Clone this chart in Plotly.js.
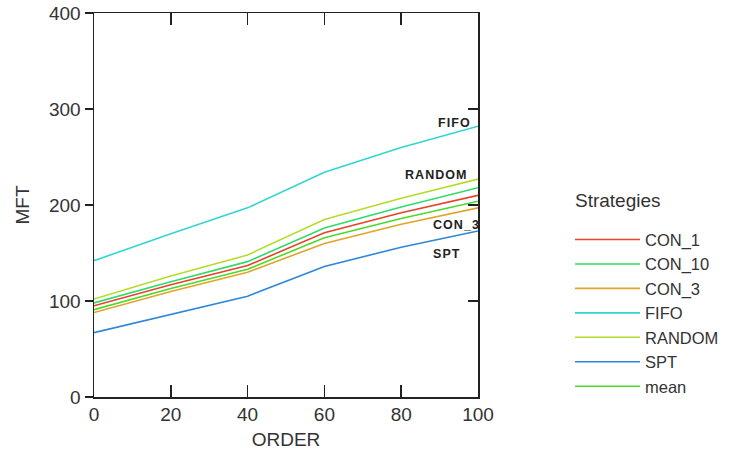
<!DOCTYPE html>
<html><head><meta charset="utf-8">
<script src="https://cdn.plot.ly/plotly-3.0.1.min.js"></script>
<style>html,body{margin:0;padding:0;background:#fff;}#chart{width:741px;height:457px;}</style>
</head><body><div id="chart"></div>
<script>
const order = [0, 20, 40, 60, 80, 100];
const seriesNames = ["CON_1", "CON_10", "CON_3", "FIFO", "RANDOM", "SPT", "mean"];
const con1   = [95, 117, 137, 171, 192, 210];
const con10  = [98, 120, 141, 176, 198, 218];
const con3   = [88, 110, 130, 160, 180, 197];
const fifo   = [142, 170, 197, 234, 260, 282];
const random = [102, 126, 148, 185, 207, 227];
const spt    = [67, 86, 105, 136, 156, 173];
const mean   = [91, 113, 133, 166, 186, 204];
const labelled = ["FIFO", "RANDOM", "CON_3", "SPT"];
const xTicks = [0, 20, 40, 60, 80, 100];
const yTicks = [0, 100, 200, 300, 400];
const legendTitle = "Strategies";

const values = [con1, con10, con3, fifo, random, spt, mean];
const colors = ["#e8412c", "#2fdc6a", "#e0a42a", "#33d6cf", "#b3dc2c", "#2f86d8", "#4cd92c"];

const traces = seriesNames.map((n, i) => ({
  x: order, y: values[i], name: n, type: "scatter", mode: "lines",
  line: {color: colors[i], width: 1.6}
}));
// invisible trace to force the right-side mirror axis
traces.push({x: [order[0]], y: [yTicks[0]], yaxis: "y2", mode: "markers", marker: {opacity: 0}, showlegend: false, hoverinfo: "skip"});

const labelShift = {FIFO: [-6, 3], RANDOM: [-10, 4], CON_3: [3, -17], SPT: [-16, -23]};
const annotations = labelled.map(n => {
  const i = seriesNames.indexOf(n);
  const v = values[i];
  return {
    x: order[order.length - 1], y: v[v.length - 1], xref: "x", yref: "y",
    text: "<b>" + n.split("").join("\u200A") + "</b>", showarrow: false,
    xanchor: "right", yanchor: "middle",
    xshift: labelShift[n][0], yshift: labelShift[n][1],
    font: {family: "Liberation Sans, Arial, sans-serif", size: 12.5, color: "#222"}
  };
});
annotations.push({
  x: 1.247, y: 0.513, xref: "paper", yref: "paper", xanchor: "left", yanchor: "middle",
  text: legendTitle, showarrow: false,
  font: {family: "Liberation Sans, Arial, sans-serif", size: 19, color: "#333"}
});

const tickFont = {family: "Liberation Sans, Arial, sans-serif", size: 19, color: "#333"};
const layout = {
  width: 741, height: 457,
  margin: {l: 94, r: 263, t: 13, b: 60, autoexpand: false},
  paper_bgcolor: "#fff", plot_bgcolor: "#fff",
  showlegend: true,
  font: {family: "Liberation Sans, Arial, sans-serif", color: "#333"},
  xaxis: {
    range: [0, 100], tickvals: xTicks, ticktext: xTicks.map(String),
    ticks: "inside", ticklen: 12, tickcolor: "#222", tickwidth: 1.5,
    showline: true, linecolor: "#222", linewidth: 1.5, mirror: "ticks",
    showgrid: false, zeroline: false, tickfont: tickFont,
    title: {text: "ORDER", font: {size: 19, color: "#333"}, standoff: 8}
  },
  yaxis: {
    range: [0, 400], tickvals: yTicks, ticktext: yTicks.map(String),
    ticks: "outside", ticklen: 8, tickcolor: "#222", tickwidth: 1.5,
    showline: true, linecolor: "#222", linewidth: 1.5, mirror: true,
    showgrid: false, zeroline: false, tickfont: tickFont,
    title: {text: "MFT", font: {size: 19, color: "#333"}, standoff: 14}
  },
  yaxis2: {
    overlaying: "y", side: "right", range: [0, 400], tickvals: yTicks,
    ticks: "inside", ticklen: 10, tickcolor: "#222", tickwidth: 1.5,
    showticklabels: false, showline: false, showgrid: false, zeroline: false
  },
  legend: {
    x: 1.2396, y: 0.455, xanchor: "left", yanchor: "top",
    font: {size: 16.5, color: "#333"},
    itemwidth: 65, tracegroupgap: 0, bgcolor: "rgba(0,0,0,0)"
  },
  annotations: annotations
};
Plotly.newPlot("chart", traces, layout, {displayModeBar: false, staticPlot: true});
</script></body></html>
